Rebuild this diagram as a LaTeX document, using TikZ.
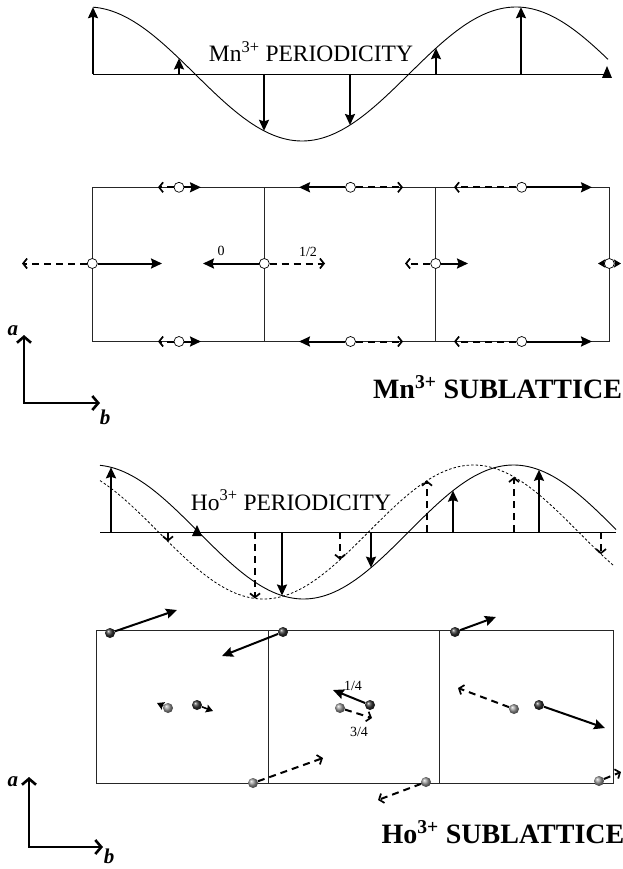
\documentclass[tikz,border=0pt]{standalone}
\usepackage{fontspec}
\setmainfont{Liberation Serif}
\usetikzlibrary{arrows.meta}
\begin{document}
\begin{tikzpicture}[x=1pt,y=-1pt,
  thinline/.style={line width=0.8pt, black!85},
  wave/.style={line width=0.9pt},
  dwave/.style={line width=0.8pt, dash pattern=on 2.5pt off 2pt},
  spin/.style={line width=2pt, -{Stealth[length=11pt,width=10pt,inset=1.5pt]}},
  tinyspin/.style={line width=1.6pt, -{Stealth[length=7pt,width=8pt,inset=1pt]}},
  dspin/.style={line width=2pt, dash pattern=on 7pt off 5pt, -{Straight Barb[length=4pt,width=10pt,line width=1.7pt]}},
  mnatom/.style={circle, draw, line width=0.7pt, fill=white, inner sep=0pt, minimum size=10pt},
  hodark/.style={circle, inner sep=0pt, minimum size=10pt, ball color=black!80},
  holight/.style={circle, inner sep=0pt, minimum size=10pt, ball color=black!40},
  axisarr/.style={line width=2.6pt, line join=miter, {Straight Barb[length=6pt,width=14pt,line width=2.6pt]}-{Straight Barb[length=6pt,width=14pt,line width=2.6pt]}},
  axlabel/.style={font=\bfseries\itshape\fontsize{21}{21}\selectfont, inner sep=0pt},
  pertext/.style={font=\fontsize{23.5}{24}\selectfont, anchor=base, inner sep=0pt},
  subtext/.style={font=\bfseries\fontsize{28}{28}\selectfont, anchor=base, inner sep=0pt},
  frac/.style={font=\fontsize{14}{14}\selectfont, inner sep=0pt}
]
\fill[white] (0,0) rectangle (623,869);
\useasboundingbox (0,0) rectangle (623,869);

% ================= Mn periodicity =================
\draw[wave] (93,74) -- (608,74);
\draw[wave] plot[domain=93:608,samples=150] (\x,{74-67*cos((\x-88)/428*360)});
\foreach \p in {93,179,264,350,436,521}
  \draw[spin] (\p,74) -- (\p,{74-67*cos((\p-88)/428*360)});
\fill (602,78) -- (607,66) -- (612,78) -- cycle;
\node[pertext] (mnper) at (311,62) {Mn\textsuperscript{3+} PERIODICITY};

% ================= Mn sublattice =================
\draw[thinline] (92.3,187.3) rectangle (609.3,341.5);
\draw[thinline] (264.3,187.3) -- (264.3,341.5);
\draw[thinline] (435.7,187.3) -- (435.7,341.5);

% top row
\node[mnatom] (t1) at (179,187.3) {};
\node[mnatom] (t2) at (350.5,187.3) {};
\node[mnatom] (t3) at (521.7,187.3) {};
\coordinate (t1l) at (158,187.3); \coordinate (t1r) at (201,187.3);
\coordinate (t2l) at (299,187.3); \coordinate (t2r) at (403,187.3);
\coordinate (t3l) at (454,187.3); \coordinate (t3r) at (592,187.3);
\draw[dspin] (t1) -- (t1l); \draw[spin] (t1) -- (t1r);
\draw[spin] (t2) -- (t2l); \draw[dspin] (t2) -- (t2r);
\draw[dspin] (t3) -- (t3l); \draw[spin] (t3) -- (t3r);

% bottom row
\node[mnatom] (b1) at (179,341.5) {};
\node[mnatom] (b2) at (350.5,341.5) {};
\node[mnatom] (b3) at (521.7,341.5) {};
\coordinate (b1l) at (158,341.5); \coordinate (b1r) at (201,341.5);
\coordinate (b2l) at (299,341.5); \coordinate (b2r) at (403,341.5);
\coordinate (b3l) at (454,341.5); \coordinate (b3r) at (592,341.5);
\draw[dspin] (b1) -- (b1l); \draw[spin] (b1) -- (b1r);
\draw[spin] (b2) -- (b2l); \draw[dspin] (b2) -- (b2r);
\draw[dspin] (b3) -- (b3l); \draw[spin] (b3) -- (b3r);

% middle row
\node[mnatom] (m1) at (92.3,263.5) {};
\node[mnatom] (m2) at (264.3,263.5) {};
\node[mnatom] (m3) at (435.7,263.5) {};
\node[mnatom] (m4) at (609.3,263.5) {};
\coordinate (m1l) at (22,263.5); \coordinate (m1r) at (162,263.5);
\coordinate (m2l) at (203,263.5); \coordinate (m2r) at (325,263.5);
\coordinate (m3l) at (405,263.5); \coordinate (m3r) at (468,263.5);
\coordinate (m4l) at (598,263.5); \coordinate (m4r) at (621,263.5);
\draw[dspin] (m1) -- (m1l); \draw[spin] (m1) -- (m1r);
\draw[spin] (m2) -- (m2l); \draw[dspin] (m2) -- (m2r);
\draw[dspin] (m3) -- (m3l); \draw[spin] (m3) -- (m3r);
\draw[tinyspin] (m4) -- (m4l); \draw[tinyspin] (m4) -- (m4r);
\node[frac] (lab0) at (221,251) {0};
\node[frac] (labhalf) at (308,251.5) {1/2};

% axes (Mn)
\coordinate (mo) at (24,403); \coordinate (ma) at (24,335); \coordinate (mb) at (100,403);
\draw[axisarr] (ma) -- (mo) -- (mb);
\node[axlabel] (mal) at (13,331) {a};
\node[axlabel] (mbl) at (105,417) {b};
\node[subtext] (mnsub) at (497.5,398) {Mn\textsuperscript{3+} SUBLATTICE};

% ================= Ho periodicity =================
\draw[wave] (100,532) -- (616,532);
\draw[wave] plot[domain=100:616,samples=150] (\x,{532-67*cos((\x-93.5)/420*360)});
\draw[dwave] plot[domain=100:613,samples=150] (\x,{532-67*cos((\x-53.5)/420*360)});
\foreach \p in {111,282,371,453,539}
  \draw[spin] (\p,532) -- (\p,{532-67*cos((\p-93.5)/420*360)});
\foreach \p in {168,255,340,427,514,601}
  \draw[dspin] (\p,532) -- (\p,{532-67*cos((\p-53.5)/420*360)});
\fill (192,536) -- (197,525) -- (202,536) -- cycle;
\node[pertext] (hoper) at (291,510) {Ho\textsuperscript{3+} PERIODICITY};

% ================= Ho sublattice =================
\draw[thinline] (96.7,630.5) rectangle (613.3,783.5);
\draw[thinline] (268.3,630.5) -- (268.3,783.5);
\draw[thinline] (439.3,630.5) -- (439.3,783.5);

\node[hodark] (h1) at (110,633) {};
\node[hodark] (h2) at (283,632) {};
\node[holight] (h3) at (168,708) {};
\node[hodark] (h4) at (197,705) {};
\node[holight] (h5) at (253,783) {};
\node[hodark] (h6) at (370,705) {};
\node[holight] (h7) at (340,708) {};
\node[holight] (h8) at (426,782) {};
\node[hodark] (h9) at (455,632) {};
\node[holight] (h10) at (514,709) {};
\node[hodark] (h11) at (539,705) {};
\node[holight] (h12) at (599,781) {};

\coordinate (h1e) at (177,610);
\coordinate (h2e) at (222,656);
\coordinate (h3e) at (157,703);
\coordinate (h4e) at (213,711);
\coordinate (h5e) at (323,758);
\coordinate (h6e) at (333,690);
\coordinate (h7e) at (372,718);
\coordinate (h8e) at (378,800);
\coordinate (h9e) at (496,617);
\coordinate (h10e) at (458,688);
\coordinate (h11e) at (605,728);
\coordinate (h12e) at (621,772);

\draw[spin] (h1) -- (h1e);
\draw[spin] (h2) -- (h2e);
\draw[tinyspin] (h3) -- (h3e);
\draw[tinyspin] (h4) -- (h4e);
\draw[dspin] (h5) -- (h5e);
\draw[spin] (h6) -- (h6e);
\draw[dspin] (h7) -- (h7e);
\draw[dspin] (h8) -- (h8e);
\draw[spin] (h9) -- (h9e);
\draw[dspin] (h10) -- (h10e);
\draw[spin] (h11) -- (h11e);
\draw[dspin] (h12) -- (h12e);

\node[frac] (lab14) at (353,686) {1/4};
\node[frac] (lab34) at (359,732) {3/4};

% axes (Ho)
\coordinate (ho) at (29,847); \coordinate (ha) at (29,777); \coordinate (hb) at (103,847);
\draw[axisarr] (ha) -- (ho) -- (hb);
\node[axlabel] (hal) at (13,782) {a};
\node[axlabel] (hbl) at (109,856) {b};
\node[subtext] (hosub) at (503,843) {Ho\textsuperscript{3+} SUBLATTICE};
\end{tikzpicture}
\end{document}
